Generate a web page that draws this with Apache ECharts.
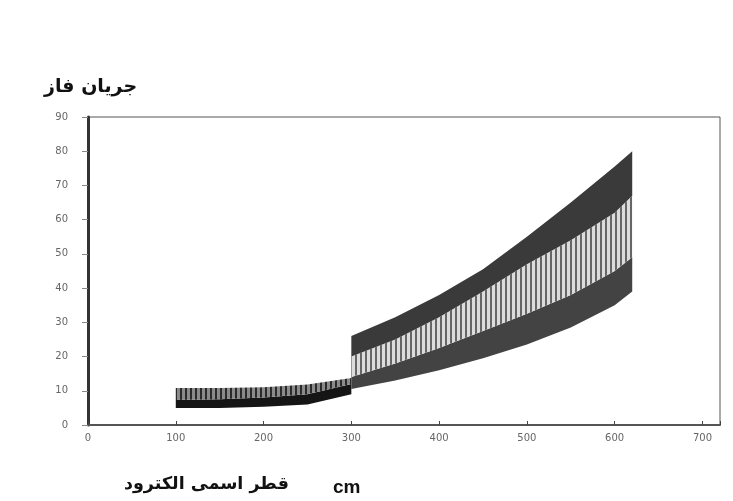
<!DOCTYPE html>
<html><head><meta charset="utf-8">
<script src="https://cdn.jsdelivr.net/npm/echarts/dist/echarts.min.js"></script>
<style>html,body{margin:0;padding:0;background:#fff}#c{width:733px;height:501px}</style>
</head><body><div id="c"></div>
<script>
// Left segment (100..300)
var xLeft = [100, 150, 200, 250, 300];
var leftBottom = [5, 5, 5.3, 6, 9];
var leftMid = [7.3, 7.5, 8, 9, 12];
var leftTop = [10.8, 10.8, 11, 11.8, 13.7];
// Right segment (300..620)
var xRight = [300, 350, 400, 450, 500, 550, 600, 620];
var rightBottom = [10.5, 13, 16, 19.5, 23.5, 28.5, 35, 39];
var rightHatchLow = [14, 18, 22.5, 27.5, 32.5, 38, 45, 49];
var rightHatchHigh = [20, 25, 31.5, 39, 47, 54, 62, 67];
var rightTop = [26, 31.5, 38, 45.5, 55, 65, 75.5, 80];
var xTicks = [0, 100, 200, 300, 400, 500, 600, 700];
var yTicks = [0, 10, 20, 30, 40, 50, 60, 70, 80, 90];

function pat(bg, line) {
  var c = document.createElement('canvas'); c.width = 5; c.height = 6;
  var g = c.getContext('2d');
  g.fillStyle = bg; g.fillRect(0, 0, 5, 6);
  g.fillStyle = line; g.fillRect(0, 0, 2, 6);
  return {image: c, repeat: 'repeat'};
}

var bands = [
  {xs: xLeft, lo: leftBottom, hi: leftMid, fill: '#151515'},
  {xs: xLeft, lo: leftMid, hi: leftTop, fill: pat('#8a8a8a', '#2a2a2a')},
  {xs: xRight, lo: rightBottom, hi: rightHatchLow, fill: '#434343'},
  {xs: xRight, lo: rightHatchLow, hi: rightHatchHigh, fill: pat('#dcdcdc', '#666666')},
  {xs: xRight, lo: rightHatchHigh, hi: rightTop, fill: '#3a3a3a'}
];

function renderBand(params, api) {
  var b = bands[api.value(2)];
  var pts = [];
  for (var i = 0; i < b.xs.length; i++) pts.push(api.coord([b.xs[i], b.hi[i]]));
  for (var j = b.xs.length - 1; j >= 0; j--) pts.push(api.coord([b.xs[j], b.lo[j]]));
  return {type: 'polygon', shape: {points: pts, smooth: 0}, style: {fill: b.fill, stroke: null}};
}

var chart = echarts.init(document.getElementById('c'));
chart.setOption({
  animation: false,
  grid: {left: 88, right: 13, top: 117, bottom: 76, show: true, borderColor: '#555', borderWidth: 1},
  xAxis: {
    type: 'value', min: 0, max: 720, interval: 100,
    axisLine: {lineStyle: {color: '#555', width: 2}},
    axisTick: {inside: true, length: 4, lineStyle: {color: '#444'}},
    splitLine: {show: false},
    axisLabel: {color: '#666', fontSize: 10, fontFamily: 'DejaVu Sans', margin: 8,
      formatter: function (v) { return xTicks.indexOf(v) >= 0 ? String(v) : ''; }}
  },
  yAxis: {
    type: 'value', min: 0, max: 90, interval: 10,
    axisLine: {show: true, lineStyle: {color: '#333', width: 3}},
    axisTick: {show: true, inside: false, length: 6, lineStyle: {color: '#888'}},
    splitLine: {show: false},
    axisLabel: {color: '#666', fontSize: 10, fontFamily: 'DejaVu Sans', margin: 20,
      formatter: function (v) { return yTicks.indexOf(v) >= 0 ? String(v) : ''; }}
  },
  graphic: [
    {type: 'text', left: 44, top: 78, style: {text: 'جریان فاز', font: 'bold 19px "DejaVu Sans"', fill: '#111'}},
    {type: 'text', left: 124, top: 475, style: {text: 'قطر اسمی الکترود', font: 'bold 17.5px "DejaVu Sans"', fill: '#111'}},
    {type: 'text', left: 333, top: 478, style: {text: 'cm', font: 'bold 19px "Liberation Sans"', fill: '#111'}}
  ],
  series: [{
    type: 'custom', silent: true,
    renderItem: renderBand,
    encode: {x: 0, y: 1},
    data: bands.map(function (b, i) { return [b.xs[0], b.lo[0], i]; })
  }]
});
</script></body></html>
